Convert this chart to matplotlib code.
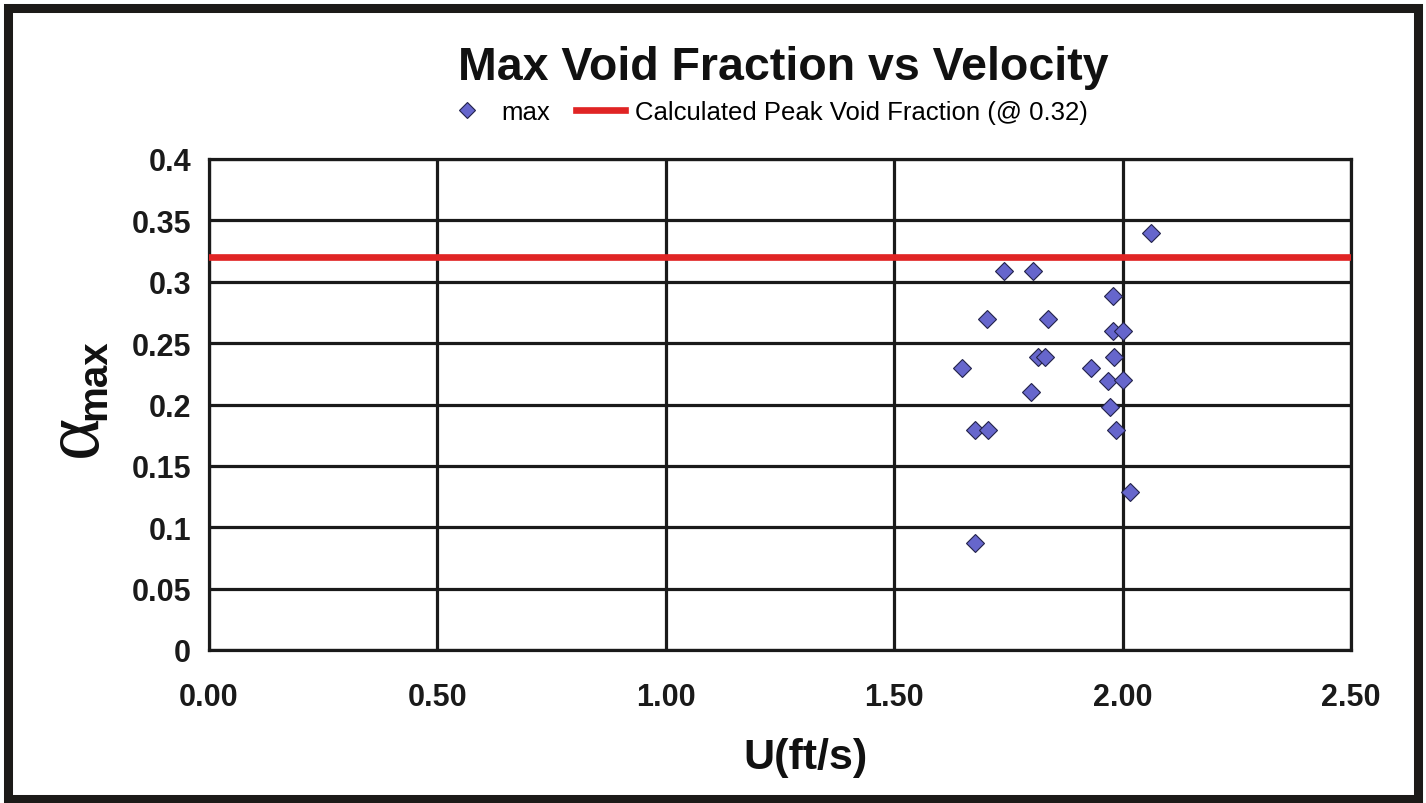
import matplotlib
matplotlib.use("Agg")
import matplotlib.pyplot as plt
from matplotlib.patches import Rectangle

# measured velocity (ft/s) and peak void fraction for each run
velocity = [2.063, 1.741, 1.803, 1.979, 1.704, 1.836, 1.979, 2.000, 1.648, 1.815, 1.830,
            1.931, 1.981, 1.967, 2.000, 1.799, 1.973, 1.676, 1.706, 1.986, 2.017, 1.676]
alpha_max = [0.340, 0.309, 0.309, 0.288, 0.270, 0.270, 0.260, 0.260, 0.230, 0.239, 0.239,
             0.230, 0.239, 0.219, 0.220, 0.210, 0.198, 0.179, 0.179, 0.179, 0.129, 0.087]

# calculated peak void fraction
peak_void = 0.32

x_ticks = [0.0, 0.5, 1.0, 1.5, 2.0, 2.5]
x_labels = ["0.00", "0.50", "1.00", "1.50", "2.00", "2.50"]
y_ticks = [0, 0.05, 0.1, 0.15, 0.2, 0.25, 0.3, 0.35, 0.4]
y_labels = ["0", "0.05", "0.1", "0.15", "0.2", "0.25", "0.3", "0.35", "0.4"]

plt.rcParams["font.family"] = ["Liberation Sans", "DejaVu Sans"]

W, H = 1426, 804
fig = plt.figure(figsize=(W / 100, H / 100), dpi=100)
fig.patch.set_facecolor("white")

ax = fig.add_axes([209 / W, 1 - 651 / H, (1351 - 209) / W, (651 - 160) / H])

ax.axhline(peak_void, color="#e02424", lw=4.8, zorder=3,
           label="Calculated Peak Void Fraction (@ 0.32)")
ax.plot(velocity, alpha_max, linestyle="none", marker="D", markersize=9.6,
        markerfacecolor="#6666cc", markeredgecolor="#22224a", markeredgewidth=0.8,
        zorder=4, label="max")

ax.set_xlim(0, 2.5)
ax.set_ylim(0, 0.4)
ax.set_xticks(x_ticks)
ax.set_xticklabels(x_labels)
ax.set_yticks(y_ticks)
ax.set_yticklabels(y_labels)
ax.tick_params(axis="x", length=0, pad=23, labelsize=22)
ax.tick_params(axis="y", length=0, pad=13, labelsize=22)
for lab in ax.get_xticklabels() + ax.get_yticklabels():
    lab.set_fontweight("bold")
    lab.set_color("#1a1a1a")

ax.grid(True, color="#1a1a1a", lw=2.3)
ax.set_axisbelow(True)
for sp in ax.spines.values():
    sp.set_color("#1a1a1a")
    sp.set_linewidth(2.3)

# title, legend and axis titles
fig.text(783 / W, 1 - 68 / H, "Max Void Fraction vs Velocity", ha="center", va="center",
         fontsize=33.5, fontweight="bold", color="#111111")

handles, labels = ax.get_legend_handles_labels()
fig.legend(handles[::-1], labels[::-1], loc="center", bbox_to_anchor=(765 / W, 1 - 113 / H),
           ncol=2, frameon=False, fontsize=18.5, handlelength=1.9, handletextpad=0.4,
           columnspacing=1.0, markerscale=0.85)

fig.text(806 / W, 1 - 758 / H, "U(ft/s)", ha="center", va="center",
         fontsize=31, fontweight="bold", color="#111111")
fig.text(76 / W, 1 - 436 / H, "α", ha="center", va="center", rotation=90,
         fontsize=58, family=["Liberation Serif", "DejaVu Serif"], color="#111111")
fig.text(94 / W, 1 - 380 / H, "max", ha="center", va="center", rotation=90,
         fontsize=29, fontweight="bold", color="#111111")

# outer frame
fig.patches.append(Rectangle((7.5 / W, 4 / H), 1410 / W, 791 / H, transform=fig.transFigure,
                             fill=False, lw=6.5, edgecolor="#1c1a18"))

fig.savefig("out.png", dpi=100)
